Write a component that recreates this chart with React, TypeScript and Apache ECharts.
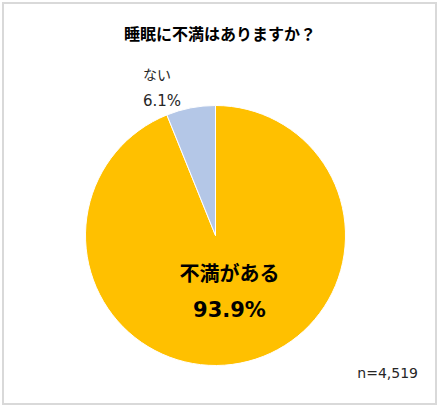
import React, { useEffect, useRef } from "react";
import * as echarts from "echarts";

const categories = ["不満がある", "ない"];
const values = [93.9, 6.1];
const colors = ["#FFC000", "#B4C7E7"];
const titleText = "睡眠に不満はありますか？";
const noteText = "n=4,519";

const JP = "'Noto Sans CJK JP', sans-serif";
const NUM = "'DejaVu Sans', 'Noto Sans CJK JP', sans-serif";

export default function App() {
  const ref = useRef<HTMLDivElement>(null);
  useEffect(() => {
    document.body.style.margin = "0";
    const chart = echarts.init(ref.current!, null, { renderer: "svg" });
    chart.setOption({
      animation: false,
      backgroundColor: "#ffffff",
      title: {
        text: titleText,
        left: "center",
        top: 20,
        textStyle: { fontFamily: JP, fontSize: 16, fontWeight: "bold", color: "#000" },
      },
      graphic: [
        {
          type: "rect",
          shape: { x: 3, y: 3, width: 433, height: 401 },
          style: { fill: "none", stroke: "#d9d9d9", lineWidth: 2 },
          silent: true,
        },
        {
          type: "text",
          right: 22,
          top: 366,
          style: { text: noteText, fontFamily: NUM, fontSize: 14, fill: "#262626" },
        },
      ],
      series: [
        {
          type: "pie",
          center: [215.5, 235.5],
          radius: 130,
          startAngle: 90,
          clockwise: true,
          itemStyle: { borderColor: "#ffffff", borderWidth: 1 },
          labelLine: { show: false },
          data: categories.map((name, i) => ({
            name,
            value: values[i],
            itemStyle: { color: colors[i] },
            label:
              i === 0
                ? {
                    show: true,
                    position: "inside",
                    padding: [0, 0, 22, 2],
                    formatter: "{a|{b}}\n{b|{d}%}",
                    rich: {
                      a: { fontFamily: JP, fontSize: 20, fontWeight: "bold", color: "#000", lineHeight: 37, align: "center" },
                      b: { fontFamily: NUM, fontSize: 21, fontWeight: "bold", color: "#000", lineHeight: 37, align: "center" },
                    },
                  }
                : {
                    show: true,
                    position: "outside",
                    formatter: "{a|{b}}\n{b|{d}%}",
                    rich: {
                      a: { fontFamily: JP, fontSize: 14, color: "#262626", lineHeight: 27, align: "left" },
                      b: { fontFamily: NUM, fontSize: 15, color: "#262626", lineHeight: 27, align: "left" },
                    },
                  },
          })),
          labelLayout: (params: any) => {
            if (params.dataIndex === 1) {
              return { x: 143, y: 87, align: "left", verticalAlign: "middle" };
            }
            return {};
          },
        },
      ],
    });
    return () => chart.dispose();
  }, []);
  return <div ref={ref} style={{ width: 440, height: 408, position: "absolute", left: 0, top: 0 }} />;
}
